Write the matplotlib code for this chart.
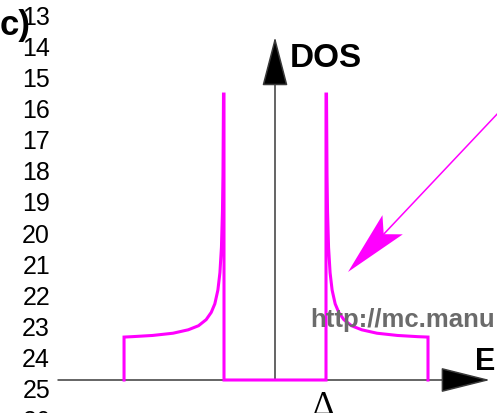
import numpy as np
import matplotlib
matplotlib.use("Agg")
from matplotlib import pyplot as plt
from matplotlib.patches import Polygon

# BCS-like density of states, energies in units of the gap
gap_edge = 1.0
cut_lo = -2.96
cut_hi = 3.0
peak_dos = 7.06
branch_e = [1.01, 1.02, 1.03, 1.05, 1.08, 1.12, 1.18, 1.25, 1.35, 1.5, 1.7, 2.0, 2.4, 2.8, 3.0]
branch_dos = [7.06, 5.07, 4.17, 3.28, 2.65, 2.22, 1.88, 1.67, 1.49, 1.34, 1.24, 1.155, 1.10, 1.07, 1.06]
line_numbers = [str(n) for n in range(13, 27)]

MAGENTA = "#ff00ff"
AXIS_COL = "#3a3a3a"

plt.rcParams["font.family"] = ["Liberation Sans", "DejaVu Sans"]

fig = plt.figure(figsize=(4.97, 4.14), dpi=100)

# data axes: E in units of gap, DOS in units of normal-state DOS
ax = fig.add_axes([0, 0, 1, 1])
ax.set_xlim(-275 / 51, (497 - 275) / 51)
ax.set_ylim(-33 / 40.5, 381 / 40.5)
ax.set_axis_off()

left_e = [-e for e in branch_e[::-1]]
left_e[0] = cut_lo
left_dos = branch_dos[::-1]
right_e = branch_e[:-1] + [cut_hi]
xs = [cut_lo] + left_e + [-gap_edge, -gap_edge, gap_edge, gap_edge] + right_e + [cut_hi]
ys = [0] + left_dos + [peak_dos, 0, 0, peak_dos] + branch_dos + [0]
ax.plot(xs, ys, color=MAGENTA, lw=2.2, solid_joinstyle="miter", zorder=3)

# axes with arrow heads
ax.annotate("", xy=((490 - 275) / 51, 0), xytext=((58 - 275) / 51, 0),
            arrowprops=dict(arrowstyle="-|>,head_length=32,head_width=8", mutation_scale=1,
                            color=AXIS_COL, fc="black", lw=1.1, shrinkA=0, shrinkB=0), zorder=2)
ax.annotate("", xy=(0, (381 - 38) / 40.5), xytext=(0, 0),
            arrowprops=dict(arrowstyle="-|>,head_length=32,head_width=8.3", mutation_scale=1,
                            color=AXIS_COL, fc="black", lw=1.1, shrinkA=0, shrinkB=0), zorder=2)

# overlay in pixel units for labels
ov = fig.add_axes([0, 0, 1, 1])
ov.set_xlim(0, 497)
ov.set_ylim(414, 0)
ov.set_axis_off()

for k, lab in enumerate(line_numbers):
    ov.text(50, 25 + 31.08 * k, lab, ha="right", va="baseline", fontsize=18, color="black")

ov.text(0, 35, "c)", ha="left", va="baseline", fontsize=25, fontweight="bold")
ov.text(290, 67, "DOS", ha="left", va="baseline", fontsize=24, fontweight="bold")
ov.text(475, 370, "E", ha="left", va="baseline", fontsize=22, fontweight="bold")
ov.text(323.5, 414, "Δ", ha="center", va="baseline", fontsize=24, family=["Liberation Serif", "DejaVu Serif"])
ov.text(310, 327, "http://mc.manu", ha="left", va="baseline", fontsize=18.5,
        fontweight="bold", color="#6b6b6b", zorder=1)

# magenta pointer arrow (stealth head)
tip = np.array([348.0, 273.0])
tail = np.array([500.0, 112.0])
d = (tail - tip) / np.linalg.norm(tail - tip)
perp = np.array([d[1], -d[0]])
barb1 = tip + 65 * d + 14 * perp
barb2 = tip + 65 * d - 14 * perp
notch = tip + 52 * d
ov.plot([tail[0], notch[0]], [tail[1], notch[1]], color=MAGENTA, lw=1.1)
ov.add_patch(Polygon([tip, barb1, notch, barb2], closed=True, color=MAGENTA, lw=0))

fig.savefig("out.png", dpi=100)
